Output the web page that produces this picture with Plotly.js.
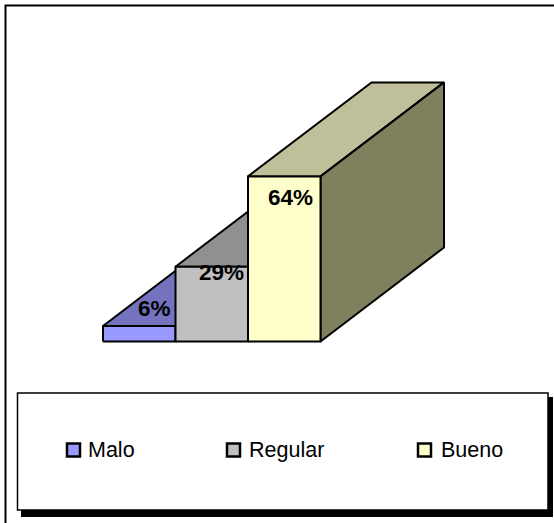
<!DOCTYPE html>
<html><head><meta charset="utf-8">
<script src="https://cdn.plot.ly/plotly-3.0.1.min.js"></script>
<style>html,body{margin:0;padding:0;background:#fff;overflow:hidden}#c{width:554px;height:523px}</style>
</head><body><div id="c"></div>
<script>
const categories = ["Malo", "Regular", "Bueno"];
const values = [6, 29, 64];
const labels = ["6%", "29%", "64%"];
const frontColors = ["#9999FF", "#C0C0C0", "#FFFFCC"];
const topColors = ["#7373BF", "#909090", "#BFBF99"];
const sideColors = ["#5C5C99", "#737373", "#80805F"];

const W = 554, H = 523;
const originX = 103, baseY = 341.5, unitW = 72.5, unitH = 2.58;
const depthPxX = 123.5, depthPxY = 94;
const dx = depthPxX / unitW, dy = depthPxY / unitH;

const traces = [];
function face(xs, ys, color, name) {
  traces.push({type: "scatter", mode: "lines", x: xs, y: ys, fill: "toself", fillcolor: color,
    line: {color: "#000", width: 2, shape: "linear"}, showlegend: false, hoverinfo: "skip", name});
}
categories.forEach((c, i) => {
  const v = values[i], a = i, b = i + 1;
  face([a, a + dx, b + dx, b, a], [v, v + dy, v + dy, v, v], topColors[i], c + " top");
  face([b, b + dx, b + dx, b, b], [0, dy, v + dy, v, 0], sideColors[i], c + " side");
  face([a, b, b, a, a], [0, 0, v, v, 0], frontColors[i], c);
});

const px = x => x / W, py = y => 1 - y / H;
const box = (x0, y0, x1, y1, fill, lw) => ({type: "rect", xref: "paper", yref: "paper",
  x0: px(x0), x1: px(x1), y0: py(y1), y1: py(y0), fillcolor: fill,
  line: {color: "#000", width: lw}, layer: "below"});
const shapes = [
  box(5.5, 5.5, 560, 530, "#fff", 2),
  box(21, 397, 553, 517, "#000", 0),
  box(17.5, 393, 548, 510, "#fff", 1.5)
];
const legendKeyX = [67, 227, 418];
const legendTextX = [86.5, 247.5, 439.5];
const annotations = [];
categories.forEach((c, i) => {
  shapes.push(Object.assign(box(legendKeyX[i], 443.5, legendKeyX[i] + 13, 456.5, frontColors[i], 2.5), {layer: "above"}));
  annotations.push({xref: "paper", yref: "paper", x: px(legendTextX[i]), y: py(450), xanchor: "left", yanchor: "middle",
    text: c, showarrow: false, font: {family: "Liberation Sans, Arial, sans-serif", size: 21.5, color: "#000"}, borderpad: 0});
});
const labelPxX = [154.5, 221.5, 290], labelPxY = [308, 272, 198];
labels.forEach((t, i) => {
  annotations.push({xref: "paper", yref: "paper", x: px(labelPxX[i]), y: py(labelPxY[i]), xanchor: "center", yanchor: "middle",
    text: "<b>" + t + "</b>", showarrow: false, font: {family: "Liberation Sans, Arial, sans-serif", size: 22.5, color: "#000"}, borderpad: 0});
});

Plotly.newPlot("c", traces, {
  width: W, height: H, margin: {l: 0, r: 0, t: 0, b: 0},
  paper_bgcolor: "#fff", plot_bgcolor: "rgba(0,0,0,0)", showlegend: false,
  xaxis: {range: [-originX / unitW, (W - originX) / unitW], visible: false, fixedrange: true},
  yaxis: {range: [-(H - baseY) / unitH, baseY / unitH], visible: false, fixedrange: true},
  shapes, annotations
}, {displayModeBar: false, staticPlot: true});
</script></body></html>
